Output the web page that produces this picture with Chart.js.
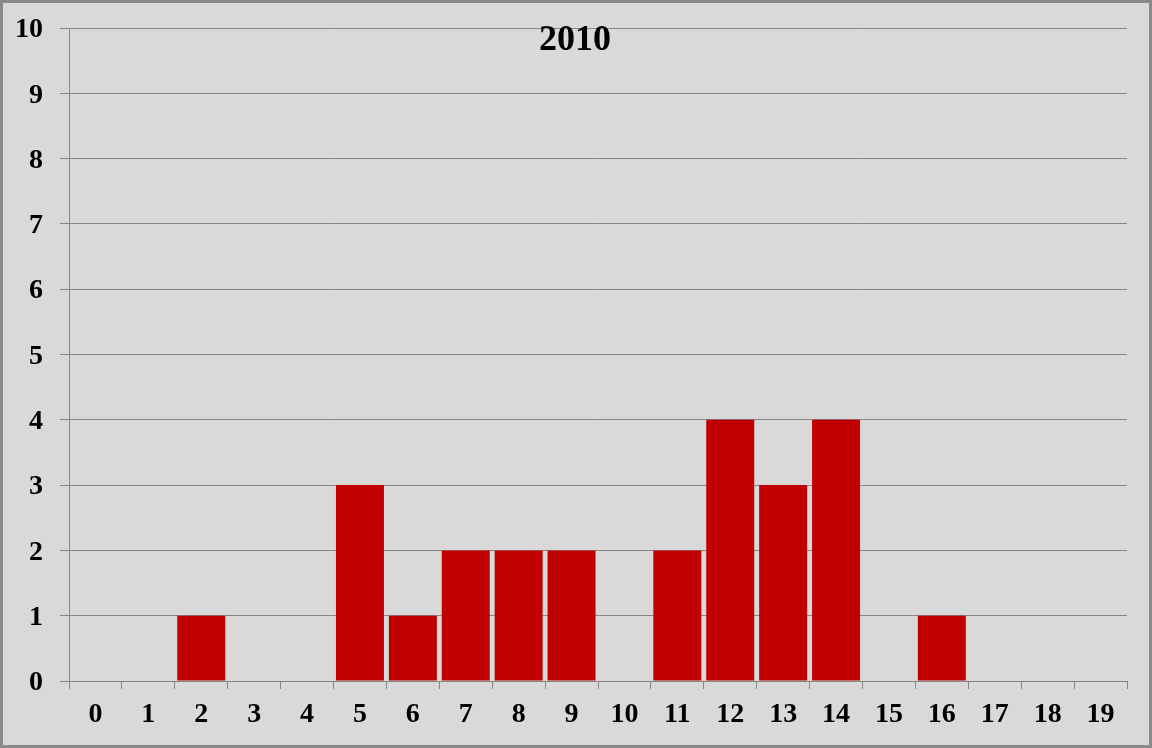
<!DOCTYPE html>
<html>
<head>
<meta charset="utf-8">
<script src="https://cdn.jsdelivr.net/npm/chart.js@4"></script>
<style>
  html, body { margin: 0; padding: 0; background: #ffffff; }
  #wrap { width: 1152px; height: 748px; box-sizing: border-box; border: 3px solid #8a8a8a; background: #D9D9D9; }
  #c { display: block; }
</style>
</head>
<body>
<div id="wrap"><canvas id="c" width="1146" height="742"></canvas></div>
<script>
const chartTitle = "2010";
const categories = ["0","1","2","3","4","5","6","7","8","9","10","11","12","13","14","15","16","17","18","19"];
const counts = [0,0,1,0,0,3,1,2,2,2,0,2,4,3,4,0,1,0,0,0];
const yTicks = [0,1,2,3,4,5,6,7,8,9,10];

const FONT = "'Liberation Serif', 'Times New Roman', serif";
const GRID = "#868686";

const titlePlugin = {
  id: 'innerTitle',
  afterDraw(chart) {
    const ctx = chart.ctx;
    ctx.save();
    ctx.font = "bold 36px " + FONT;
    ctx.fillStyle = "#000";
    ctx.textAlign = "center";
    ctx.textBaseline = "alphabetic";
    ctx.fillText(chartTitle, 572, 47);
    ctx.restore();
  }
};

new Chart(document.getElementById('c'), {
  type: 'bar',
  data: {
    labels: categories,
    datasets: [{
      data: counts,
      backgroundColor: '#C00000',
      borderWidth: 0,
      barPercentage: 0.907,
      categoryPercentage: 1.0
    }]
  },
  options: {
    responsive: false,
    animation: false,
    devicePixelRatio: 1,
    layout: { padding: { left: 0, right: 22, top: 25, bottom: 0 } },
    plugins: { legend: { display: false }, title: { display: false }, tooltip: { enabled: false } },
    scales: {
      x: {
        offset: true,
        grid: { display: true, drawOnChartArea: false, drawTicks: true, tickLength: 8, offset: true, color: GRID, lineWidth: 1 },
        border: { display: true, color: GRID, width: 1 },
        ticks: { color: '#000', font: { family: FONT, size: 28, weight: 'bold' }, padding: 9, maxRotation: 0, autoSkip: false },
        afterFit(scale) { scale.height = 64; scale.paddingLeft = 0; scale.paddingRight = 0; }
      },
      y: {
        min: 0, max: 10,
        afterBuildTicks(scale) { scale.ticks = yTicks.map(v => ({ value: v })); },
        grid: { display: true, drawOnChartArea: true, drawTicks: true, tickLength: 9, color: GRID, lineWidth: 1 },
        border: { display: true, color: GRID, width: 1 },
        ticks: { color: '#000', font: { family: FONT, size: 28, weight: 'bold' }, padding: 17, labelOffset: 2 },
        afterFit(scale) { scale.width = 66; scale.paddingTop = 0; scale.paddingBottom = 0; }
      }
    }
  },
  plugins: [titlePlugin]
});
</script>
</body>
</html>
